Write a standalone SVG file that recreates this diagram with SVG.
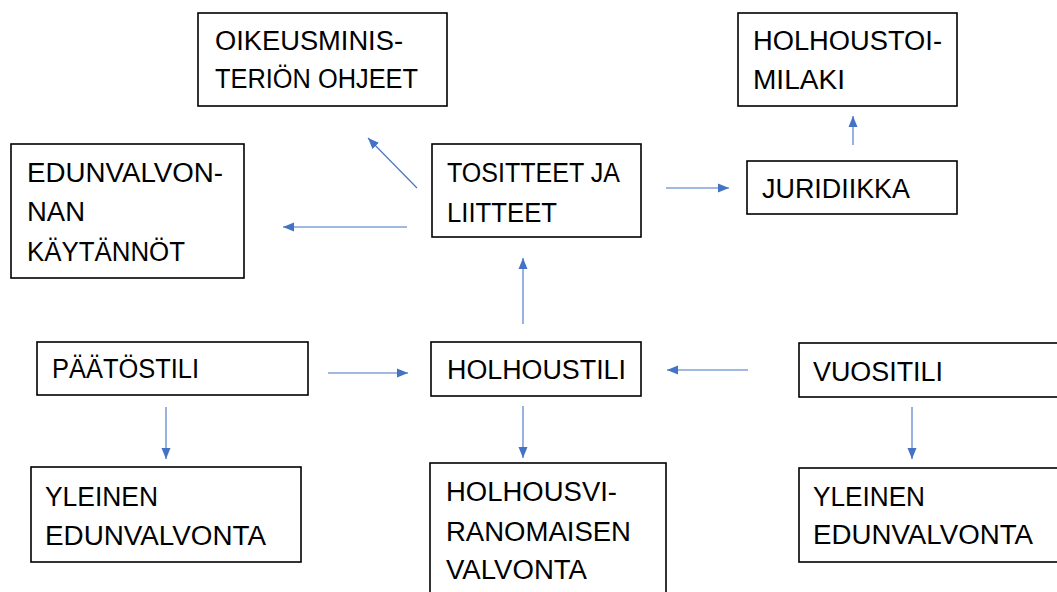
<svg xmlns="http://www.w3.org/2000/svg" width="1057" height="592" viewBox="0 0 1057 592">
<style>
.box{fill:#fff;stroke:#000;stroke-width:1.6}
.t{font-family:"Liberation Sans",Arial,sans-serif;font-size:27px;fill:#000}
.c{stroke:#4472C4;stroke-width:1.1;fill:none;marker-end:url(#ah)}
</style>
<defs>
<marker id="ah" markerUnits="userSpaceOnUse" markerWidth="12" markerHeight="10" refX="11" refY="5" orient="auto">
<path d="M0,0.5 L11,5 L0,9.5 Z" fill="#4472C4"/>
</marker>
</defs>
<rect width="1057" height="592" fill="#fff"/>
<g id="connectors">
<line class="c" x1="417" y1="188" x2="368" y2="138"/>
<line class="c" x1="407" y1="227" x2="283" y2="227"/>
<line class="c" x1="666" y1="188" x2="729" y2="188"/>
<line class="c" x1="853" y1="145" x2="853" y2="116"/>
<line class="c" x1="523" y1="324" x2="523" y2="258"/>
<line class="c" x1="328" y1="373" x2="408" y2="373"/>
<line class="c" x1="748" y1="370" x2="667" y2="370"/>
<line class="c" x1="166" y1="407" x2="166" y2="459"/>
<line class="c" x1="523" y1="406" x2="523" y2="458"/>
<line class="c" x1="912" y1="407" x2="912" y2="459"/>
</g>
<g id="oikeus">
<rect class="box" x="198" y="13" width="249" height="93"/>
<text class="t" x="215" y="50" textLength="188" lengthAdjust="spacingAndGlyphs">OIKEUSMINIS-</text>
<text class="t" x="215" y="88" textLength="203" lengthAdjust="spacingAndGlyphs">TERIÖN OHJEET</text>
</g>
<g id="holhoustoimilaki">
<rect class="box" x="738" y="13" width="219" height="93"/>
<text class="t" x="753" y="50" textLength="189" lengthAdjust="spacingAndGlyphs">HOLHOUSTOI-</text>
<text class="t" x="753" y="89" textLength="92" lengthAdjust="spacingAndGlyphs">MILAKI</text>
</g>
<g id="edunvalvonnan">
<rect class="box" x="11" y="144" width="233" height="134"/>
<text class="t" x="27" y="182" textLength="196" lengthAdjust="spacingAndGlyphs">EDUNVALVON-</text>
<text class="t" x="27" y="221" textLength="58" lengthAdjust="spacingAndGlyphs">NAN</text>
<text class="t" x="27" y="261" textLength="158" lengthAdjust="spacingAndGlyphs">KÄYTÄNNÖT</text>
</g>
<g id="tositteet">
<rect class="box" x="432" y="144" width="209" height="93"/>
<text class="t" x="447" y="182" textLength="173" lengthAdjust="spacingAndGlyphs">TOSITTEET JA</text>
<text class="t" x="447" y="222" textLength="110" lengthAdjust="spacingAndGlyphs">LIITTEET</text>
</g>
<g id="juridiikka">
<rect class="box" x="747" y="161" width="210" height="53"/>
<text class="t" x="762" y="198" textLength="148" lengthAdjust="spacingAndGlyphs">JURIDIIKKA</text>
</g>
<g id="paatostili">
<rect class="box" x="37" y="342" width="271" height="53"/>
<text class="t" x="52" y="378" textLength="147" lengthAdjust="spacingAndGlyphs">PÄÄTÖSTILI</text>
</g>
<g id="holhoustili">
<rect class="box" x="431" y="342" width="210" height="54"/>
<text class="t" x="447" y="379" textLength="179" lengthAdjust="spacingAndGlyphs">HOLHOUSTILI</text>
</g>
<g id="vuositili">
<rect class="box" x="799" y="343" width="270" height="54"/>
<text class="t" x="813" y="381" textLength="130" lengthAdjust="spacingAndGlyphs">VUOSITILI</text>
</g>
<g id="yleinen1">
<rect class="box" x="31" y="467" width="270" height="95"/>
<text class="t" x="45" y="506" textLength="113" lengthAdjust="spacingAndGlyphs">YLEINEN</text>
<text class="t" x="45" y="545" textLength="221" lengthAdjust="spacingAndGlyphs">EDUNVALVONTA</text>
</g>
<g id="holhousviranomaisen">
<rect class="box" x="430" y="463" width="236" height="140"/>
<text class="t" x="446" y="501" textLength="171" lengthAdjust="spacingAndGlyphs">HOLHOUSVI-</text>
<text class="t" x="446" y="541" textLength="185" lengthAdjust="spacingAndGlyphs">RANOMAISEN</text>
<text class="t" x="446" y="579" textLength="141" lengthAdjust="spacingAndGlyphs">VALVONTA</text>
</g>
<g id="yleinen2">
<rect class="box" x="799" y="468" width="270" height="94"/>
<text class="t" x="813" y="506" textLength="112" lengthAdjust="spacingAndGlyphs">YLEINEN</text>
<text class="t" x="813" y="544" textLength="220" lengthAdjust="spacingAndGlyphs">EDUNVALVONTA</text>
</g>
</svg>
